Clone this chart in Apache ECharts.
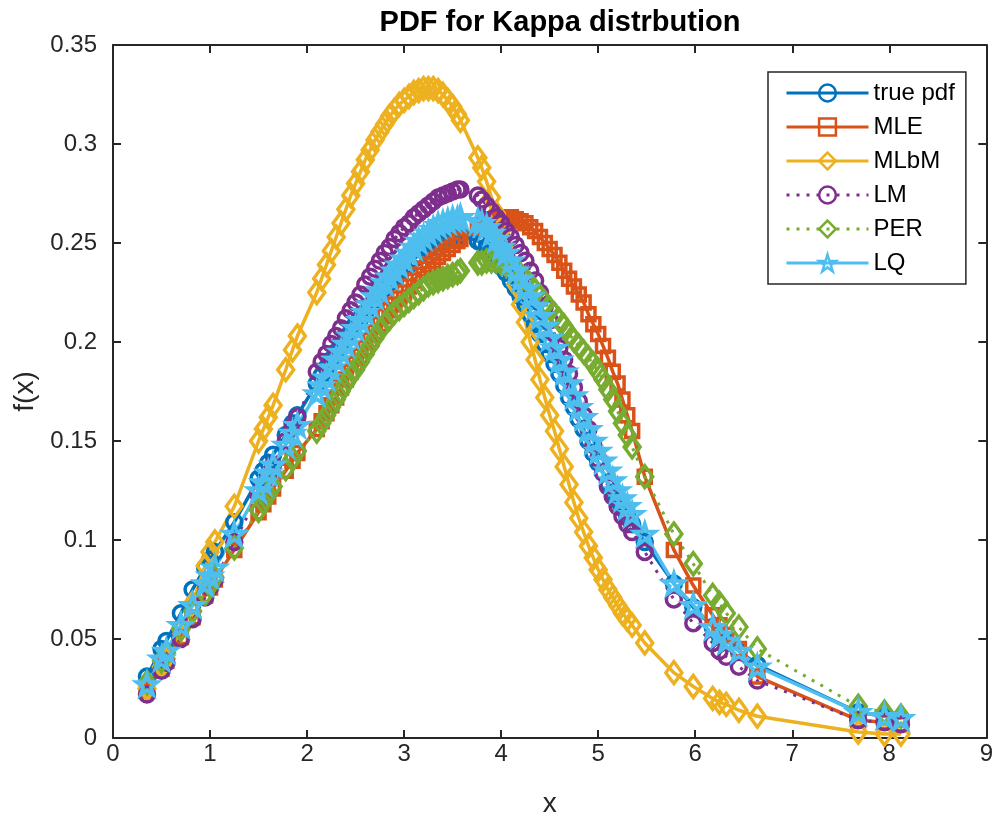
<!DOCTYPE html>
<html>
<head>
<meta charset="utf-8">
<title>PDF for Kappa distrbution</title>
<script src="https://cdn.jsdelivr.net/npm/echarts@6/dist/echarts.min.js"></script>
<style>
html, body { margin: 0; padding: 0; background: #fff; }
#main { width: 996px; height: 823px; }
</style>
</head>
<body>
<div id="main"></div>
<script>
// sample points (sorted), shared by every curve
var xs = [0.35, 0.50, 0.55, 0.70, 0.82, 0.95, 1.00, 1.05, 1.25, 1.50, 1.55, 1.60, 1.65, 1.78, 1.85, 1.90,
	2.10, 2.15, 2.20, 2.25, 2.30, 2.35, 2.40, 2.45, 2.50, 2.55, 2.60, 2.65, 2.70, 2.75, 2.80, 2.85, 2.90, 2.95, 3.00, 3.05, 3.10, 3.15, 3.20, 3.25, 3.30, 3.35, 3.40, 3.45, 3.50, 3.55, 3.58,
	3.76, 3.80, 3.85, 3.90, 3.95, 4.00, 4.05, 4.10, 4.15, 4.20, 4.25, 4.30, 4.35, 4.40, 4.45, 4.50, 4.55, 4.60, 4.65, 4.70, 4.75, 4.80, 4.85, 4.90, 4.95, 5.00, 5.05, 5.10, 5.15, 5.20, 5.25, 5.30, 5.35,
	5.48, 5.78, 5.98, 6.18, 6.25, 6.32, 6.45, 6.64, 7.68, 7.95, 8.12];

var truePdf = [.031, .045, .049, .063, .075, .086, .090, .094, .109, .131, .135, .139, .143, .153, .159, .163,
	.179, .183, .187, .191, .195, .198, .202, .205, .209, .212, .215, .218, .221, .224, .227, .230, .232, .235, .237, .239, .242, .244, .246, .247, .249, .250, .251, .252, .253, .253, .254,
	.251, .250, .248, .245, .242, .238, .235, .231, .227, .223, .219, .214, .209, .204, .199, .194, .189, .184, .178, .172, .167, .161, .156, .150, .144, .139, .134, .129, .124, .120, .116, .112, .108,
	.099, .078, .066, .056, .052, .049, .044, .037, .013, .011, .010];

var mle = [.024, .035, .039, .051, .061, .072, .076, .080, .095, .114, .118, .122, .126, .135, .140, .144,
	.156, .160, .164, .168, .172, .177, .181, .185, .189, .193, .197, .201, .205, .209, .213, .216, .219, .222, .225, .228, .231, .234, .237, .239, .241, .243, .245, .247, .249, .251, .252,
	.258, .259, .260, .261, .262, .262, .263, .263, .262, .261, .260, .258, .256, .253, .250, .247, .244, .240, .236, .232, .228, .224, .220, .214, .209, .204, .198, .192, .185, .179, .171, .163, .155,
	.132, .095, .077, .062, .057, .052, .045, .031, .009, .008, .007];

var mlbm = [.025, .036, .040, .055, .068, .087, .094, .099, .117, .150, .156, .162, .168, .186, .196, .203,
	.225, .232, .239, .246, .253, .260, .267, .274, .280, .286, .292, .297, .302, .306, .310, .314, .317, .320, .322, .324, .326, .327, .328, .328, .328, .327, .325, .322, .319, .315, .312,
	.293, .288, .281, .273, .265, .256, .247, .238, .229, .219, .210, .200, .191, .181, .172, .163, .155, .146, .137, .128, .119, .111, .104, .097, .091, .085, .080, .075, .071, .067, .063, .060, .057,
	.048, .033, .026, .020, .018, .017, .014, .011, .003, .002, .002];

var lm = [.022, .034, .038, .050, .060, .071, .076, .080, .099, .123, .128, .133, .138, .150, .157, .162,
	.185, .190, .194, .199, .203, .207, .212, .216, .220, .224, .229, .233, .237, .241, .245, .248, .252, .255, .258, .260, .263, .265, .267, .269, .271, .273, .274, .275, .276, .277, .277,
	.274, .272, .269, .266, .263, .260, .256, .253, .249, .245, .241, .236, .231, .225, .218, .211, .204, .197, .191, .184, .177, .170, .163, .156, .148, .141, .134, .127, .122, .117, .112, .108, .104,
	.094, .070, .058, .048, .044, .041, .036, .029, .009, .008, .007];

var per = [.028, .039, .043, .055, .064, .073, .077, .081, .096, .115, .119, .123, .127, .136, .141, .145,
	.155, .159, .163, .167, .171, .175, .179, .183, .186, .190, .194, .198, .202, .206, .209, .212, .215, .217, .219, .221, .223, .225, .227, .229, .230, .231, .232, .233, .234, .235, .236,
	.240, .240, .241, .241, .241, .240, .239, .238, .236, .234, .232, .229, .226, .223, .220, .217, .214, .211, .208, .204, .201, .198, .195, .192, .189, .185, .181, .176, .171, .165, .159, .153, .147,
	.132, .103, .088, .072, .068, .063, .056, .045, .016, .013, .011];

var lq = [.027, .040, .044, .057, .067, .078, .082, .086, .103, .125, .129, .134, .138, .148, .154, .158,
	.174, .178, .182, .187, .191, .195, .199, .203, .207, .211, .215, .219, .223, .226, .230, .233, .236, .239, .242, .245, .248, .251, .253, .255, .257, .259, .260, .261, .262, .262, .263,
	.261, .260, .258, .255, .252, .248, .245, .241, .236, .232, .227, .223, .218, .213, .208, .202, .197, .191, .185, .179, .173, .167, .162, .156, .150, .145, .140, .135, .130, .125, .121, .117, .113,
	.103, .078, .067, .056, .052, .049, .044, .036, .013, .011, .010];

var names = ['true pdf', 'MLE', 'MLbM', 'LM', 'PER', 'LQ'];
var colors = ['#0072BD', '#D95319', '#EDB120', '#7E2F8E', '#77AC30', '#4DBEEE'];

var starPath = 'path://M50,0 L61.2,34.5 L97.6,34.5 L68.2,55.9 L79.4,90.5 L50,69.1 L20.6,90.5 L31.8,55.9 L2.4,34.5 L38.8,34.5 Z';
var textColor = '#262626';
var fontName = '"Liberation Sans", Arial, Helvetica, sans-serif';

function makeSeries(idx, vals, symbol, size, dotted)
{
	var pts = [];
	for (var i = 0; i < xs.length; i++) {
		pts.push([xs[i], vals[i]]);
	}
	return {
		name: names[idx],
		type: 'line',
		data: pts,
		symbol: symbol,
		symbolSize: size,
		showSymbol: true,
		showAllSymbol: true,
		itemStyle: {
			color: 'rgba(255,255,255,0)',
			borderColor: colors[idx],
			borderWidth: 3.5
		},
		lineStyle: {
			color: colors[idx],
			width: dotted ? 3 : 3.5,
			type: dotted ? [3, 7] : 'solid'
		},
		emphasis: { disabled: true }
	};
}

var myChart = echarts.init(document.getElementById('main'));

var axisCommon = {
	type: 'value',
	axisLine: { show: true, onZero: false, lineStyle: { color: textColor, width: 2 } },
	axisTick: { show: true, inside: true, length: 8, lineStyle: { color: textColor, width: 2 } },
	splitLine: { show: false }
};

var option = {
	animation: false,
	backgroundColor: '#ffffff',
	textStyle: { fontFamily: fontName },
	title: {
		text: 'PDF for Kappa distrbution',
		left: 555,
		top: 3,
		textAlign: 'center',
		textStyle: { fontFamily: fontName, fontSize: 29, fontWeight: 'bold', color: '#000' }
	},
	grid: { left: 113, right: 5, top: 45, bottom: 85, containLabel: false },
	legend: {
		data: names,
		orient: 'vertical',
		left: 768,
		top: 72,
		padding: [9, 11, 9, 17],
		itemWidth: 82,
		itemHeight: 21,
		itemGap: 10,
		itemStyle: { borderWidth: 2.5 },
		lineStyle: { width: 3 },
		backgroundColor: '#ffffff',
		borderColor: textColor,
		borderWidth: 1.5,
		selectedMode: false,
		textStyle: { fontFamily: fontName, fontSize: 24, lineHeight: 24, color: '#000' }
	},
	xAxis: [
		Object.assign({}, axisCommon, {
			position: 'bottom',
			min: 0, max: 9, interval: 1,
			name: 'x',
			nameLocation: 'middle',
			nameGap: 52,
			nameTextStyle: { fontFamily: fontName, fontSize: 28, color: textColor },
			axisLabel: { fontFamily: fontName, fontSize: 24, color: textColor, margin: 4 }
		}),
		Object.assign({}, axisCommon, {
			position: 'top',
			min: 0, max: 9, interval: 1,
			axisLabel: { show: false }
		})
	],
	yAxis: [
		Object.assign({}, axisCommon, {
			position: 'left',
			min: 0, max: 0.35, interval: 0.05,
			name: 'f(x)',
			nameLocation: 'middle',
			nameGap: 70,
			nameTextStyle: { fontFamily: fontName, fontSize: 28, color: textColor },
			axisLabel: { fontFamily: fontName, fontSize: 24, color: textColor, margin: 16 }
		}),
		Object.assign({}, axisCommon, {
			position: 'right',
			min: 0, max: 0.35, interval: 0.05,
			axisLabel: { show: false }
		})
	],
	series: [
		makeSeries(0, truePdf, 'circle', 15, false),
		makeSeries(1, mle, 'rect', 13, false),
		makeSeries(2, mlbm, 'diamond', [16, 22], false),
		makeSeries(3, lm, 'circle', 15, true),
		makeSeries(4, per, 'diamond', [16, 22], true),
		makeSeries(5, lq, starPath, 21, false)
	]
};

myChart.setOption(option);
</script>
</body>
</html>
